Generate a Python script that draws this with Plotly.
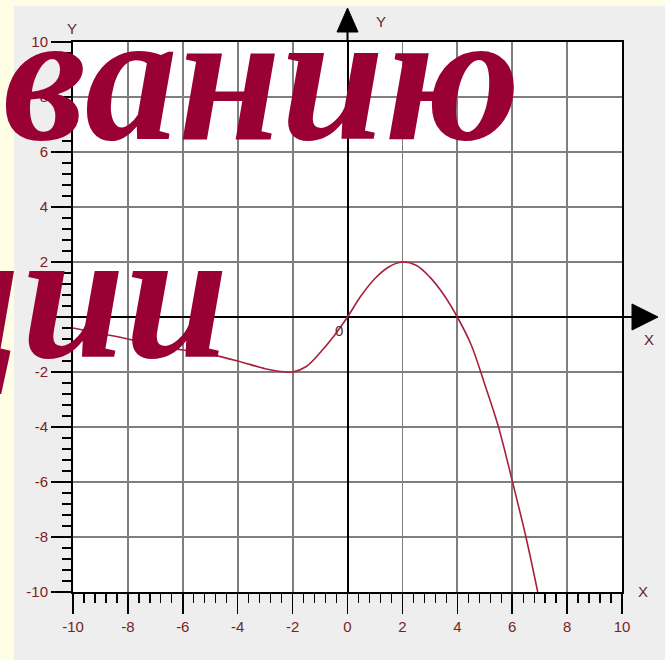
import plotly.graph_objects as go

# ---- data ----
curve_x = [-10, -9, -8, -7, -6, -5, -4, -3, -2.5, -2, -1.5, -1, -0.5, 0,
           0.5, 1, 1.5, 2, 2.5, 3, 3.5, 4, 4.5, 5, 5.5, 6, 6.5, 6.93]
curve_y = [-0.4, -0.6, -0.8, -1.05, -1.2, -1.36, -1.6, -1.88, -1.97, -2.0, -1.8, -1.3, -0.7, 0,
           0.78, 1.4, 1.82, 2.0, 1.88, 1.45, 0.82, 0, -1.0, -2.45, -4.0, -5.95, -8.0, -10]
tick_vals = [-10, -8, -6, -4, -2, 0, 2, 4, 6, 8, 10]
tick_text = ["-10", "-8", "-6", "-4", "-2", "0", "2", "4", "6", "8", "10"]
title_line1 = "ванию"
title_line2 = "ции"

W, H = 665, 660
L, R, T, B = 73, 622, 42, 592
CREAM = "#fffde4"


def px(x):
    return (x - L) / (R - L)


def py(y):
    return (B - y) / (B - T)


fig = go.Figure()
fig.add_trace(go.Scatter(
    x=curve_x, y=curve_y, mode="lines",
    line=dict(color="#a8203e", width=1.6, shape="spline", smoothing=1.0),
    hoverinfo="skip", showlegend=False,
))

tickfont = dict(family="Liberation Sans Narrow, Liberation Sans, Arial", size=15, color="#7a1e22")
axis_common = dict(
    range=[-10, 10], tickmode="array", tickvals=tick_vals, ticktext=tick_text,
    showgrid=True, gridcolor="#7f7f7f", gridwidth=1.8,
    zeroline=True, zerolinecolor="#000000", zerolinewidth=2,
    showline=True, mirror=True, linecolor="#000000", linewidth=2,
    ticks="outside", ticklen=20, tickwidth=1.5, tickcolor="#000000",
    minor=dict(dtick=0.4, tick0=-10, ticks="outside", ticklen=9, tickwidth=1.3,
               tickcolor="#000000", showgrid=False),
    tickfont=tickfont, fixedrange=True,
)

fig.update_layout(
    width=W, height=H,
    margin=dict(l=L, r=W - R, t=T, b=H - B, pad=0),
    paper_bgcolor="#eeeeee", plot_bgcolor="#ffffff",
    xaxis=dict(**axis_common),
    yaxis=dict(**axis_common),
    showlegend=False,
)

shapes = [
    dict(type="rect", xref="paper", yref="paper", x0=px(-5), x1=px(14), y0=py(H + 5), y1=py(-5),
         fillcolor=CREAM, line=dict(width=0), layer="below"),
    dict(type="rect", xref="paper", yref="paper", x0=px(-5), x1=px(W + 5), y0=py(6), y1=py(-5),
         fillcolor=CREAM, line=dict(width=0), layer="below"),
    # y-axis extension + arrow
    dict(type="line", xref="paper", yref="paper", x0=px(347.5), x1=px(347.5), y0=py(T), y1=py(30),
         line=dict(color="#000000", width=2)),
    dict(type="path", xref="paper", yref="paper",
         path=f"M {px(347.5)},{py(8)} L {px(337)},{py(32)} L {px(358)},{py(32)} Z",
         fillcolor="#000000", line=dict(color="#000000", width=1)),
    # x-axis extension + arrow
    dict(type="line", xref="paper", yref="paper", x0=px(R), x1=px(634), y0=py(317), y1=py(317),
         line=dict(color="#000000", width=2)),
    dict(type="path", xref="paper", yref="paper",
         path=f"M {px(658)},{py(317)} L {px(632)},{py(304)} L {px(632)},{py(330)} Z",
         fillcolor="#000000", line=dict(color="#000000", width=1)),
]
fig.update_layout(shapes=shapes)

lab_font = dict(family="Liberation Sans, Arial", size=15, color="#5c2a2e")
annots = [
    dict(text="Y", x=px(72), y=py(28)),
    dict(text="Y", x=px(381), y=py(21)),
    dict(text="X", x=px(649), y=py(340)),
    dict(text="X", x=px(643), y=py(591)),
    dict(text="0", x=px(339), y=py(330)),
]
for a in annots:
    fig.add_annotation(xref="paper", yref="paper", showarrow=False, font=lab_font,
                       xanchor="center", yanchor="middle", **a)

big_font = dict(family="Liberation Serif, Times New Roman, serif", size=186,
                color="#990033", weight="bold", style="italic")
fig.add_annotation(text=title_line1, xref="paper", yref="paper", showarrow=False,
                   x=px(261), y=py(76), xanchor="center", yanchor="middle", font=big_font)
fig.add_annotation(text=title_line2, xref="paper", yref="paper", showarrow=False,
                   x=px(230), y=py(294), xanchor="right", yanchor="middle", font=big_font)

fig.write_html(
    "out.html",
    config={"displayModeBar": False, "staticPlot": True},
    post_script=(
        "document.body.style.margin='0';"
        "document.body.style.padding='0';"
        f"document.body.style.background='{CREAM}';"
        "document.documentElement.style.overflow='hidden';"
    ),
)
